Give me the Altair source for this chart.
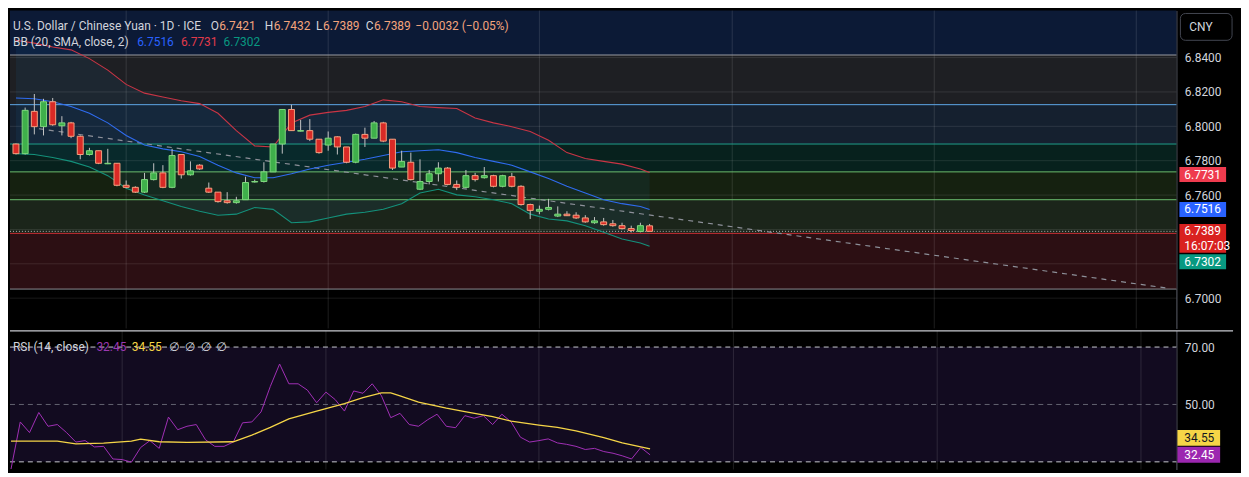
import altair as alt
import pandas as pd

# ---------------- data ----------------
bar_index = list(range(70))
opens = [6.7897, 6.7841, 6.8087, 6.7998, 6.8143, 6.8003, 6.8020, 6.7942, 6.7836, 6.7858,
         6.7782, 6.7785, 6.7657, 6.7645, 6.7617, 6.7690, 6.7729, 6.7645, 6.7836, 6.7718,
         6.7774, 6.7640, 6.7617, 6.7567, 6.7556, 6.7573, 6.7676, 6.7679, 6.7735, 6.7897,
         6.8098, 6.7972, 6.7975, 6.7925, 6.7891, 6.7939, 6.7880, 6.7791, 6.7953, 6.7931,
         6.8020, 6.7925, 6.7763, 6.7791, 6.7634, 6.7679, 6.7724, 6.7757, 6.7662, 6.7645,
         6.7713, 6.7701, 6.7713, 6.7651, 6.7707, 6.7651, 6.7545, 6.7506, 6.7517, 6.7478,
         6.7489, 6.7483, 6.7467, 6.7439, 6.7444, 6.7433, 6.7422, 6.7405, 6.7388, 6.7421]
highs = [6.7900, 6.8109, 6.8188, 6.8160, 6.8165, 6.8059, 6.8026, 6.7947, 6.7875, 6.7858,
         6.7869, 6.7785, 6.7685, 6.7651, 6.7729, 6.7785, 6.7774, 6.7869, 6.7836, 6.7796,
         6.7780, 6.7673, 6.7617, 6.7617, 6.7590, 6.7707, 6.7690, 6.7791, 6.7897, 6.8098,
         6.8126, 6.8037, 6.8042, 6.7925, 6.7970, 6.7942, 6.7880, 6.7958, 6.7992, 6.8031,
         6.8026, 6.7925, 6.7858, 6.7847, 6.7808, 6.7746, 6.7791, 6.7763, 6.7685, 6.7746,
         6.7729, 6.7763, 6.7718, 6.7718, 6.7729, 6.7657, 6.7550, 6.7539, 6.7578, 6.7534,
         6.7506, 6.7500, 6.7483, 6.7472, 6.7467, 6.7455, 6.7439, 6.7422, 6.7439, 6.7432]
lows = [6.7836, 6.7836, 6.7953, 6.7947, 6.8003, 6.7947, 6.7931, 6.7808, 6.7830, 6.7780,
        6.7780, 6.7651, 6.7640, 6.7612, 6.7612, 6.7685, 6.7640, 6.7640, 6.7696, 6.7713,
        6.7746, 6.7612, 6.7556, 6.7550, 6.7550, 6.7573, 6.7673, 6.7673, 6.7735, 6.7841,
        6.7975, 6.7970, 6.7914, 6.7841, 6.7858, 6.7836, 6.7785, 6.7785, 6.7880, 6.7931,
        6.7908, 6.7746, 6.7763, 6.7685, 6.7629, 6.7662, 6.7679, 6.7657, 6.7629, 6.7640,
        6.7679, 6.7696, 6.7645, 6.7645, 6.7645, 6.7539, 6.7461, 6.7489, 6.7511, 6.7472,
        6.7478, 6.7461, 6.7439, 6.7433, 6.7422, 6.7416, 6.7400, 6.7383, 6.7383, 6.7389]
closes = [6.7841, 6.8093, 6.7998, 6.8143, 6.8009, 6.8020, 6.7942, 6.7836, 6.7858, 6.7785,
          6.7785, 6.7657, 6.7645, 6.7617, 6.7690, 6.7729, 6.7645, 6.7830, 6.7718, 6.7741,
          6.7752, 6.7617, 6.7562, 6.7556, 6.7567, 6.7673, 6.7679, 6.7735, 6.7897, 6.8098,
          6.7975, 6.7975, 6.7925, 6.7847, 6.7931, 6.7880, 6.7791, 6.7953, 6.7931, 6.8020,
          6.7914, 6.7757, 6.7796, 6.7690, 6.7679, 6.7724, 6.7757, 6.7662, 6.7645, 6.7713,
          6.7690, 6.7713, 6.7651, 6.7713, 6.7651, 6.7545, 6.7511, 6.7517, 6.7528, 6.7489,
          6.7480, 6.7467, 6.7444, 6.7450, 6.7428, 6.7422, 6.7405, 6.7394, 6.7422, 6.7389]

bb_bars = [0, 2, 4, 6, 8, 10, 12, 14, 16, 18, 20, 22, 24, 26, 28, 30, 32, 34, 36, 38,
           40, 42, 44, 46, 48, 50, 52, 54, 56, 58, 60, 62, 64, 66, 68, 69]
bb_upper = [6.8501, 6.8484, 6.8462, 6.8445, 6.8394, 6.8327, 6.8244, 6.8193, 6.8171, 6.8149,
            6.8132, 6.8076, 6.7975, 6.7886, 6.7880, 6.8020, 6.8065, 6.8081, 6.8093, 6.8115,
            6.8154, 6.8143, 6.8115, 6.8109, 6.8104, 6.8048, 6.8020, 6.7998, 6.7970, 6.7919,
            6.7847, 6.7813, 6.7796, 6.7780, 6.7752, 6.7731]
bb_middle = [6.8165, 6.8160, 6.8143, 6.8115, 6.8076, 6.8020, 6.7947, 6.7891, 6.7869, 6.7852,
             6.7824, 6.7774, 6.7729, 6.7701, 6.7701, 6.7724, 6.7752, 6.7774, 6.7791, 6.7808,
             6.7830, 6.7852, 6.7858, 6.7864, 6.7847, 6.7819, 6.7796, 6.7774, 6.7735, 6.7696,
             6.7651, 6.7612, 6.7573, 6.7550, 6.7534, 6.7516]
bb_lower = [6.7841, 6.7836, 6.7819, 6.7796, 6.7763, 6.7713, 6.7640, 6.7601, 6.7567, 6.7534,
            6.7506, 6.7483, 6.7489, 6.7528, 6.7517, 6.7439, 6.7444, 6.7467, 6.7489, 6.7500,
            6.7517, 6.7550, 6.7612, 6.7634, 6.7601, 6.7590, 6.7573, 6.7550, 6.7489, 6.7461,
            6.7450, 6.7422, 6.7383, 6.7344, 6.7321, 6.7302]

rsi_values = [27.5, 43.9, 40.2, 47.2, 42.4, 43.0, 40.2, 36.9, 37.4, 35.2,
              35.4, 31.0, 30.8, 29.9, 35.0, 37.4, 34.7, 45.6, 41.2, 42.4,
              43.0, 37.7, 35.4, 35.4, 36.9, 43.6, 43.9, 47.4, 56.3, 64.1,
              57.2, 57.2, 55.0, 50.6, 54.3, 51.7, 47.7, 54.7, 53.9, 57.2,
              53.0, 45.4, 46.9, 43.0, 42.4, 44.7, 46.6, 42.4, 41.9, 46.1,
              45.2, 46.1, 43.0, 46.6, 43.9, 38.6, 36.9, 37.4, 38.0, 36.6,
              36.1, 35.4, 34.3, 34.7, 33.6, 33.0, 32.1, 31.0, 35.0, 32.45]
rsi_ma_bars = [0, 5, 7, 10, 13, 14, 16, 19, 24, 26, 28, 30, 33, 36, 38, 40, 41, 42, 44, 47,
               49, 52, 54, 57, 59, 61, 64, 66, 69]
rsi_ma = [37.2, 37.2, 36.3, 36.5, 37.2, 37.9, 37.0, 36.8, 37.0, 39.3, 42.0, 45.0, 47.7, 50.3,
          52.4, 54.0, 54.0, 53.0, 50.8, 48.7, 47.5, 45.8, 44.2, 42.8, 42.0, 40.8, 38.4, 36.6, 34.55]

fib_levels = [6.8674, 6.8415, 6.8126, 6.7897, 6.7735, 6.7573, 6.7377, 6.7053]
trend_bars = [2.5, 125.4]
trend_prices = [6.7986, 6.7058]
price_grid = [6.70, 6.72, 6.74, 6.76, 6.78, 6.80, 6.82, 6.84]
price_labels = [6.70, 6.76, 6.78, 6.80, 6.82, 6.84]   # 6.74 and 6.72 sit under the price tags
time_grid_bars = [12, 34, 57, 78, 100, 122]
rsi_levels = [30, 50, 70]
rsi_labels = [50, 70]                                  # 30.00 sits under the RSI tags

# ---------------- styles / layout ----------------
W, H1, H2, AX = 1174, 320, 140, 59
X_DOM = [-0.11, 125.83]
P_DOM = [6.6824, 6.8674]
R_DOM = [27.33, 75.8]
FONT = "Roboto, 'DejaVu Sans', sans-serif"
TXT = "#d1d4dc"
band_fills = ["#0c1a36", "#1e1f23", "#15202f", "#07211d", "#152110", "#1b251a", "#2c0f13"]
fib_line_colors = ["#9a9ca3", "#5fa8e8", "#1f9e8a", "#6cc070", "#6cc070", "#c62d33", "#8a8c92"]
UP_FILL, UP_EDGE = "#3fb04b", "#7fd97e"
DN_FILL, DN_EDGE = "#d92a26", "#f6a07f"
RED, BLUE, TEAL = "#e23a4b", "#2962ff", "#089981"
ORANGE = "#f4a47c"
PURPLE, YELLOW = "#a02fb5", "#f5d547"

xsc = alt.Scale(domain=X_DOM, nice=False, zero=False)
psc = alt.Scale(domain=P_DOM, nice=False, zero=False)
rsc = alt.Scale(domain=R_DOM, nice=False, zero=False)

p_axis = alt.Axis(orient="right", values=price_labels, format=".4f", title=None, ticks=False,
                  grid=False, domain=True, domainColor="#5d606b", labelColor=TXT, labelFont=FONT,
                  labelFontSize=12, labelPadding=8, labelOverlap=False, labelFlush=False,
                  minExtent=AX, maxExtent=AX)
r_axis = alt.Axis(orient="right", values=rsi_labels, format=".2f", title=None, ticks=False,
                  grid=False, domain=True, domainColor="#5d606b", labelColor=TXT, labelFont=FONT,
                  labelFontSize=12, labelPadding=8, labelOverlap=False, labelFlush=False,
                  minExtent=AX, maxExtent=AX)
one = pd.DataFrame({"k": [0]})

def X(f):
    return alt.X(f, scale=xsc, axis=None)

def PY(f):
    return alt.Y(f, scale=psc, axis=p_axis)

def RY(f):
    return alt.Y(f, scale=rsc, axis=r_axis)

# ---------------- price panel ----------------
candles = pd.DataFrame({"bar": bar_index, "open": opens, "high": highs, "low": lows, "close": closes})
candles["dir"] = ["up" if c >= o else "down" for o, c in zip(opens, closes)]
bb = pd.DataFrame({"bar": bb_bars, "upper": bb_upper, "middle": bb_middle, "lower": bb_lower})

layers = []
for hi, lo, fill in zip(fib_levels[:-1], fib_levels[1:], band_fills):
    layers.append(alt.Chart(pd.DataFrame({"hi": [hi], "lo": [lo]})).mark_rect(color=fill).encode(
        x=alt.value(0), x2=alt.value(W), y=PY("hi:Q"), y2="lo:Q"))

layers.append(alt.Chart(bb).mark_area(color="#2196f3", opacity=0.07).encode(
    x=X("bar:Q"), y=PY("upper:Q"), y2="lower:Q"))

layers.append(alt.Chart(pd.DataFrame({"p": price_grid})).mark_rule(color="#ffffff", opacity=0.1).encode(
    x=alt.value(0), x2=alt.value(W), y=PY("p:Q")))
layers.append(alt.Chart(pd.DataFrame({"b": time_grid_bars})).mark_rule(color="#ffffff", opacity=0.12).encode(
    x=X("b:Q"), y=alt.value(0), y2=alt.value(H1)))

for lvl, col in zip(fib_levels[1:], fib_line_colors):
    layers.append(alt.Chart(pd.DataFrame({"p": [lvl]})).mark_rule(color=col, strokeWidth=1).encode(
        x=alt.value(0), x2=alt.value(W), y=PY("p:Q")))

layers.append(alt.Chart(pd.DataFrame({"p": [closes[-1]]})).mark_rule(
    color="#b8bac0", strokeDash=[1, 2], strokeWidth=1).encode(
    x=alt.value(0), x2=alt.value(W), y=PY("p:Q")))

layers.append(alt.Chart(pd.DataFrame({"b": trend_bars, "p": trend_prices})).mark_line(
    color="#8d9099", strokeDash=[5, 5], strokeWidth=1.2).encode(x=X("b:Q"), y=PY("p:Q")))

for col, c in [("upper", "#c93545"), ("middle", "#2f6cf0"), ("lower", "#14917b")]:
    layers.append(alt.Chart(bb).mark_line(color=c, strokeWidth=1.1).encode(x=X("bar:Q"), y=PY(f"{col}:Q")))

layers.append(alt.Chart(candles).mark_rule(color="#c4c4c4", strokeWidth=1).encode(
    x=X("bar:Q"), y=PY("low:Q"), y2="high:Q"))
layers.append(alt.Chart(candles).mark_bar(size=6, strokeWidth=1).encode(
    x=X("bar:Q"), y=PY("open:Q"), y2="close:Q",
    color=alt.Color("dir:N", scale=alt.Scale(domain=["up", "down"], range=[UP_FILL, DN_FILL]), legend=None),
    stroke=alt.Stroke("dir:N", scale=alt.Scale(domain=["up", "down"], range=[UP_EDGE, DN_EDGE]), legend=None)))

# header texts
price_header = [
    ("U.S. Dollar / Chinese Yuan · 1D · ICE", 3, 15.5, TXT),
    ("O", 202, 15.5, TXT), (f"{opens[-1]:.4f}", 210.5, 15.5, ORANGE),
    ("H", 256.5, 15.5, TXT), (f"{highs[-1]:.4f}", 265.5, 15.5, ORANGE),
    ("L", 308, 15.5, TXT), (f"{lows[-1]:.4f}", 315, 15.5, ORANGE),
    ("C", 358, 15.5, TXT), (f"{closes[-1]:.4f}", 366.5, 15.5, ORANGE),
    ("−0.0032 (−0.05%)", 408, 15.5, ORANGE),
    ("BB (20, SMA, close, 2)", 3, 32, TXT),
    (f"{bb_middle[-1]:.4f}", 128, 32, BLUE),
    (f"{bb_upper[-1]:.4f}", 172, 32, RED),
    (f"{bb_lower[-1]:.4f}", 215, 32, TEAL),
]
for t, px, py, c in price_header:
    layers.append(alt.Chart(one).mark_text(align="left", baseline="middle", font=FONT, fontSize=12,
                                           color=c).encode(x=alt.value(px), y=alt.value(py), text=alt.value(t)))

# axis tags
price_tags = [
    (bb_upper[-1], "#ef3b4e", 2, 15, [(f"{bb_upper[-1]:.4f}", 2)]),
    (bb_middle[-1], "#2962ff", 0, 15, [(f"{bb_middle[-1]:.4f}", 0)]),
    (closes[-1], "#d9211f", 7, 29, [(f"{closes[-1]:.4f}", 0), ("16:07:03", 14.5)]),
    (bb_lower[-1], "#089981", 15.5, 15, [(f"{bb_lower[-1]:.4f}", 15.5)]),
]
for p, fill, off, hgt, texts in price_tags:
    d = pd.DataFrame({"p": [p]})
    layers.append(alt.Chart(d).mark_rule(color=fill, strokeWidth=hgt, strokeCap="butt", yOffset=off).encode(
        x=alt.value(W + 3), x2=alt.value(W + 50), y=PY("p:Q")))
    for t, dy in texts:
        layers.append(alt.Chart(d).mark_text(align="left", baseline="middle", font=FONT, fontSize=12,
                                             color="#ffffff", dy=dy).encode(
            x=alt.value(W + 8), y=PY("p:Q"), text=alt.value(t)))

layers.append(alt.Chart(one).mark_rect(fill="#000000", stroke="#434651", strokeWidth=1, cornerRadius=5).encode(
    x=alt.value(W + 4), x2=alt.value(W + 56), y=alt.value(3), y2=alt.value(30)))
layers.append(alt.Chart(one).mark_text(align="left", baseline="middle", font=FONT, fontSize=12, color=TXT).encode(
    x=alt.value(W + 13), y=alt.value(16.5), text=alt.value("CNY")))

price_chart = alt.layer(*layers).properties(width=W, height=H1)

# ---------------- RSI panel ----------------
rsi_df = pd.DataFrame({"bar": bar_index, "rsi": rsi_values})
ma_df = pd.DataFrame({"bar": rsi_ma_bars, "ma": rsi_ma})
rl = []
rl.append(alt.Chart(pd.DataFrame({"hi": [rsi_levels[2]], "lo": [rsi_levels[0]]})).mark_rect(color="#120b20").encode(
    x=alt.value(0), x2=alt.value(W), y=RY("hi:Q"), y2="lo:Q"))
rl.append(alt.Chart(pd.DataFrame({"b": time_grid_bars})).mark_rule(color="#ffffff", opacity=0.12).encode(
    x=X("b:Q"), y=alt.value(0), y2=alt.value(H2)))
rl.append(alt.Chart(pd.DataFrame({"r": [rsi_levels[0], rsi_levels[2]]})).mark_rule(
    color="#c9cbd1", strokeDash=[5, 4], strokeWidth=1).encode(x=alt.value(0), x2=alt.value(W), y=RY("r:Q")))
rl.append(alt.Chart(pd.DataFrame({"r": [rsi_levels[1]]})).mark_rule(
    color="#787b86", strokeDash=[5, 4], strokeWidth=1, opacity=0.8).encode(x=alt.value(0), x2=alt.value(W), y=RY("r:Q")))
rl.append(alt.Chart(rsi_df).mark_line(color=PURPLE, strokeWidth=1).encode(x=X("bar:Q"), y=RY("rsi:Q")))
rl.append(alt.Chart(ma_df).mark_line(color=YELLOW, strokeWidth=1.3).encode(x=X("bar:Q"), y=RY("ma:Q")))

rsi_header = [
    ("RSI (14, close)", 3, TXT), (f"{rsi_values[-1]:.2f}", 87, "#9b38b0"), (f"{rsi_ma[-1]:.2f}", 122.5, YELLOW),
    ("∅", 160, TXT), ("∅", 176, TXT), ("∅", 192, TXT), ("∅", 207.5, TXT),
]
for t, px, c in rsi_header:
    rl.append(alt.Chart(pd.DataFrame({"r": [rsi_levels[2]]})).mark_text(
        align="left", baseline="middle", font=FONT, fontSize=12, color=c).encode(
        x=alt.value(px), y=RY("r:Q"), text=alt.value(t)))

rsi_tags = [
    (rsi_ma[-1], YELLOW, -11, "#131722"),
    (rsi_values[-1], "#9c27b0", 0, "#ffffff"),
]
for r, fill, off, tc in rsi_tags:
    d = pd.DataFrame({"r": [r]})
    rl.append(alt.Chart(d).mark_rule(color=fill, strokeWidth=16, strokeCap="butt", yOffset=off).encode(
        x=alt.value(W + 1), x2=alt.value(W + 44), y=RY("r:Q")))
    rl.append(alt.Chart(d).mark_text(align="left", baseline="middle", font=FONT, fontSize=12,
                                     color=tc, dy=off).encode(
        x=alt.value(W + 8), y=RY("r:Q"), text=alt.value(f"{r:.2f}")))

rl.append(alt.Chart(one).mark_rule(color="#c8cad0", strokeWidth=1.2).encode(
    x=alt.value(0), x2=alt.value(W + 57), y=alt.value(0.5)))

rsi_chart = alt.layer(*rl).properties(width=W, height=H2)

chart = alt.vconcat(price_chart, rsi_chart, spacing=0).properties(
    background="#000000", padding=0
).configure_view(stroke=None)

chart.save("out.html", embed_options={"renderer": "svg", "actions": False})
